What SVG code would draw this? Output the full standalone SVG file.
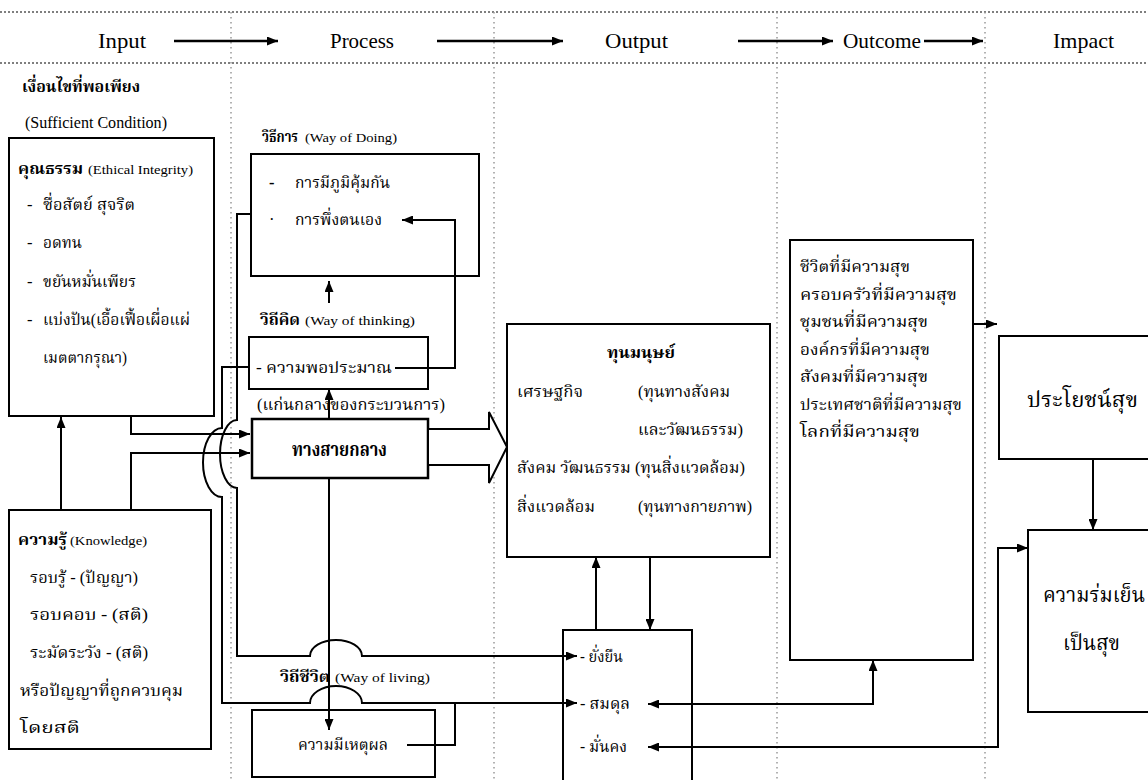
<svg xmlns="http://www.w3.org/2000/svg" width="1148" height="780" viewBox="0 0 1148 780">
<defs>
<style>
.box{fill:#fff;stroke:#000;stroke-width:2}
.ln{fill:none;stroke:#000;stroke-width:2}
.hd{fill:none;stroke:#000;stroke-width:2.5}
.vdot{stroke:#999;stroke-width:1.5;stroke-dasharray:1.5 3.5}
.hdot{stroke:#555;stroke-width:1.3;stroke-dasharray:2 2}
text{font-family:"Liberation Serif","Noto Serif Thai","Noto Sans Thai",serif;font-size:16.5px;fill:#000}
.h{font-size:21px}
.b{font-weight:bold}
.s{font-size:13.5px}
.l{font-size:20px}
.xl{font-size:21px}
</style>
<marker id="ah" viewBox="0 0 11 9" refX="11" refY="4.5" markerWidth="11" markerHeight="9" markerUnits="userSpaceOnUse" orient="auto-start-reverse"><path d="M0,0 L11,4.5 L0,9 z" fill="#000"/></marker>
</defs>
<rect width="1148" height="780" fill="#fff"/>
<g id="grid">
<line class="hdot" x1="0" y1="12" x2="1148" y2="12"/>
<line class="hdot" x1="0" y1="63" x2="1148" y2="63"/>
<line class="vdot" x1="231" y1="12" x2="231" y2="780"/>
<line class="vdot" x1="494" y1="12" x2="494" y2="780"/>
<line class="vdot" x1="777" y1="12" x2="777" y2="780"/>
<line class="vdot" x1="985" y1="12" x2="985" y2="780"/>
</g>
<g id="header">
<text class="h" x="98" y="48" textLength="48" lengthAdjust="spacingAndGlyphs">Input</text>
<text class="h" x="330" y="48" textLength="64" lengthAdjust="spacingAndGlyphs">Process</text>
<text class="h" x="605" y="48" textLength="63" lengthAdjust="spacingAndGlyphs">Output</text>
<text class="h" x="843" y="48" textLength="78" lengthAdjust="spacingAndGlyphs">Outcome</text>
<text class="h" x="1053" y="48" textLength="61" lengthAdjust="spacingAndGlyphs">Impact</text>
</g>
<g id="input-title">
<text class="b" x="22" y="92" textLength="118" lengthAdjust="spacingAndGlyphs">เงื่อนไขที่พอเพียง</text>
<text x="25" y="128" textLength="142" lengthAdjust="spacingAndGlyphs">(Sufficient Condition)</text>
</g>
<g id="ethics">
<rect class="box" x="9" y="138" width="205" height="278"/>
<text class="b" x="18" y="174" textLength="65" lengthAdjust="spacingAndGlyphs">คุณธรรม</text>
<text class="s" x="88" y="174" textLength="105" lengthAdjust="spacingAndGlyphs">(Ethical Integrity)</text>
<text x="27" y="210">-</text><text x="43" y="210" textLength="92" lengthAdjust="spacingAndGlyphs">ซื่อสัตย์ สุจริต</text>
<text x="27" y="248">-</text><text x="43" y="248" textLength="39" lengthAdjust="spacingAndGlyphs">อดทน</text>
<text x="27" y="287">-</text><text x="43" y="287" textLength="93" lengthAdjust="spacingAndGlyphs">ขยันหมั่นเพียร</text>
<text x="27" y="325">-</text><text x="43" y="325" textLength="147" lengthAdjust="spacingAndGlyphs">แบ่งปัน(เอื้อเฟื้อเผื่อแผ่</text>
<text x="43" y="363" textLength="84" lengthAdjust="spacingAndGlyphs">เมตตากรุณา)</text>
</g>
<g id="knowledge">
<rect class="box" x="9" y="510" width="202" height="239"/>
<text class="b" x="18" y="545" textLength="49" lengthAdjust="spacingAndGlyphs">ความรู้</text>
<text class="s" x="70" y="545" textLength="77" lengthAdjust="spacingAndGlyphs">(Knowledge)</text>
<text x="30" y="583" textLength="108" lengthAdjust="spacingAndGlyphs">รอบรู้ - (ปัญญา)</text>
<text x="30" y="620" textLength="118" lengthAdjust="spacingAndGlyphs">รอบคอบ - (สติ)</text>
<text x="30" y="658" textLength="118" lengthAdjust="spacingAndGlyphs">ระมัดระวัง - (สติ)</text>
<text x="20" y="696" textLength="163" lengthAdjust="spacingAndGlyphs">หรือปัญญาที่ถูกควบคุม</text>
<text x="20" y="733" textLength="60" lengthAdjust="spacingAndGlyphs">โดยสติ</text>
</g>
<g id="way-of-doing">
<text class="b" x="262" y="142" textLength="36" lengthAdjust="spacingAndGlyphs">วิธีการ</text>
<text class="s" x="305" y="142" textLength="92" lengthAdjust="spacingAndGlyphs">(Way of Doing)</text>
<rect class="box" x="251" y="154" width="228" height="122"/>
<text class="b" x="269" y="188">-</text><text x="295" y="188" textLength="95" lengthAdjust="spacingAndGlyphs">การมีภูมิคุ้มกัน</text>
<text x="269" y="225">·</text><text x="295" y="225" textLength="87" lengthAdjust="spacingAndGlyphs">การพึ่งตนเอง</text>
</g>
<g id="way-of-thinking">
<text class="b" x="260" y="325" textLength="40" lengthAdjust="spacingAndGlyphs">วิถีคิด</text>
<text class="s" x="305" y="325" textLength="110" lengthAdjust="spacingAndGlyphs">(Way of thinking)</text>
<rect class="box" x="249" y="337" width="179" height="52"/>
<text x="256" y="373" textLength="136" lengthAdjust="spacingAndGlyphs">- ความพอประมาณ</text>
</g>
<g id="middle-path">
<text x="257" y="410" textLength="188" lengthAdjust="spacingAndGlyphs">(แก่นกลางของกระบวนการ)</text>
<rect class="box" x="252" y="419" width="176" height="59" style="stroke-width:2.5"/>
<text class="l b" x="292" y="456" textLength="95" lengthAdjust="spacingAndGlyphs">ทางสายกลาง</text>
</g>
<g id="way-of-living">
<text class="b" x="280" y="682" textLength="50" lengthAdjust="spacingAndGlyphs">วิถีชีวิต</text>
<text class="s" x="335" y="682" textLength="95" lengthAdjust="spacingAndGlyphs">(Way of living)</text>
<rect class="box" x="252" y="710" width="183" height="67"/>
<text x="298" y="750" textLength="90" lengthAdjust="spacingAndGlyphs">ความมีเหตุผล</text>
</g>
<g id="capital">
<rect class="box" x="507" y="324" width="263" height="233"/>
<text class="b" x="607" y="358" textLength="68" lengthAdjust="spacingAndGlyphs">ทุนมนุษย์</text>
<text x="517" y="397" textLength="66" lengthAdjust="spacingAndGlyphs">เศรษฐกิจ</text>
<text x="638" y="397" textLength="92" lengthAdjust="spacingAndGlyphs">(ทุนทางสังคม</text>
<text x="638" y="435" textLength="105" lengthAdjust="spacingAndGlyphs">และวัฒนธรรม)</text>
<text x="517" y="473" textLength="228" lengthAdjust="spacingAndGlyphs">สังคม วัฒนธรรม (ทุนสิ่งแวดล้อม)</text>
<text x="517" y="512" textLength="78" lengthAdjust="spacingAndGlyphs">สิ่งแวดล้อม</text>
<text x="638" y="512" textLength="114" lengthAdjust="spacingAndGlyphs">(ทุนทางกายภาพ)</text>
</g>
<g id="stability">
<rect class="box" x="563" y="630" width="129" height="160"/>
<text x="580" y="662" textLength="43" lengthAdjust="spacingAndGlyphs">- ยั่งยืน</text>
<text x="580" y="709" textLength="50" lengthAdjust="spacingAndGlyphs">- สมดุล</text>
<text x="580" y="752" textLength="47" lengthAdjust="spacingAndGlyphs">- มั่นคง</text>
</g>
<g id="outcome">
<rect class="box" x="790" y="240" width="183" height="420"/>
<text x="800" y="272" textLength="110" lengthAdjust="spacingAndGlyphs">ชีวิตที่มีความสุข</text>
<text x="800" y="299.5" textLength="157" lengthAdjust="spacingAndGlyphs">ครอบครัวที่มีความสุข</text>
<text x="800" y="327" textLength="128" lengthAdjust="spacingAndGlyphs">ชุมชนที่มีความสุข</text>
<text x="800" y="354.5" textLength="130" lengthAdjust="spacingAndGlyphs">องค์กรที่มีความสุข</text>
<text x="800" y="382" textLength="128" lengthAdjust="spacingAndGlyphs">สังคมที่มีความสุข</text>
<text x="800" y="409.5" textLength="162" lengthAdjust="spacingAndGlyphs">ประเทศชาติที่มีความสุข</text>
<text x="800" y="437" textLength="120" lengthAdjust="spacingAndGlyphs">โลกที่มีความสุข</text>
</g>
<g id="benefit">
<rect class="box" x="999" y="336" width="170" height="123"/>
<text class="xl" x="1027" y="407" textLength="111" lengthAdjust="spacingAndGlyphs">ประโยชน์สุข</text>
</g>
<g id="peace">
<rect class="box" x="1028" y="530" width="140" height="182"/>
<text class="xl" x="1043" y="602" textLength="102" lengthAdjust="spacingAndGlyphs">ความร่มเย็น</text>
<text class="xl" x="1063" y="650" textLength="57" lengthAdjust="spacingAndGlyphs">เป็นสุข</text>
</g>
<g id="connectors">
<path class="hd" d="M174,41 H278" marker-end="url(#ah)"/>
<path class="hd" d="M437,41 H563" marker-end="url(#ah)"/>
<path class="hd" d="M738,41 H833" marker-end="url(#ah)"/>
<path class="hd" d="M924,41 H983" marker-end="url(#ah)"/>
<path class="ln" d="M61,510 V417" marker-end="url(#ah)"/>
<path class="ln" d="M131,416 V434 H250" marker-end="url(#ah)"/>
<path class="ln" d="M131,510 V453 H250" marker-end="url(#ah)"/>
<path class="ln" d="M251,214 H237 V420 A17,34 0 0 0 237,488 V656 H310 A26,16 0 0 1 362,656 H577" marker-end="url(#ah)"/>
<path class="ln" d="M249,367 H222 V428 A19,34.5 0 0 0 222,497 V703 H310 A26,17 0 0 1 362,703 H577" marker-end="url(#ah)"/>
<path class="ln" d="M395,368 H455 V220 H402" marker-end="url(#ah)"/>
<path class="ln" d="M329,303 V281" marker-end="url(#ah)"/>
<path class="ln" d="M329,419 V389" marker-end="url(#ah)"/>
<path class="ln" d="M329,478 V730" marker-end="url(#ah)"/>
<polygon class="box" points="428,429 489,429 489,412 507,447 489,483 489,465 428,465"/>
<path class="ln" d="M596,630 V557" marker-end="url(#ah)"/>
<path class="ln" d="M650,557 V630" marker-end="url(#ah)"/>
<path class="ln" d="M407,745 H455 V703"/>
<path class="ln" d="M648,704 H873 V660" marker-start="url(#ah)" marker-end="url(#ah)"/>
<path class="ln" d="M973,324 H997" marker-end="url(#ah)"/>
<path class="ln" d="M1093,459 V530" marker-end="url(#ah)"/>
<path class="ln" d="M648,747 H998 V548 H1028" marker-start="url(#ah)" marker-end="url(#ah)"/>
</g>
</svg>
